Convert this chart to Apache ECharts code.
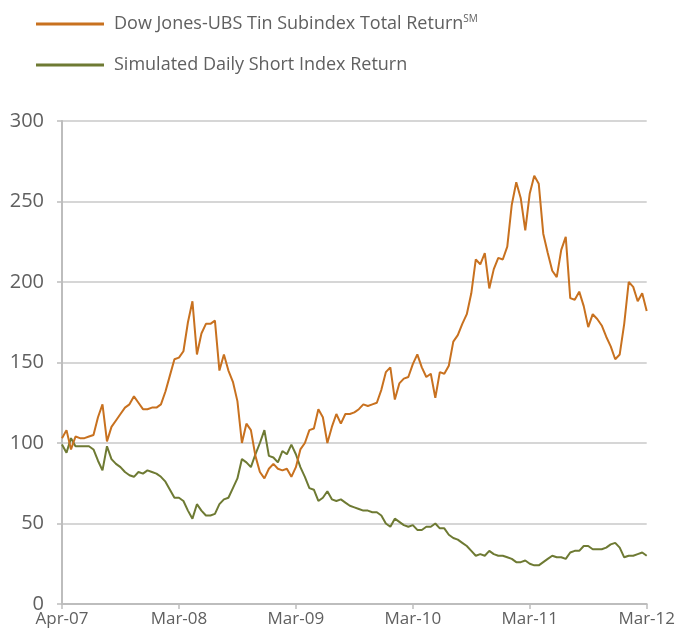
<!DOCTYPE html>
<html><head><meta charset="utf-8">
<script src="https://cdn.jsdelivr.net/npm/echarts@6/dist/echarts.min.js"></script>
<style>html,body{margin:0;padding:0;background:#fff}#c{width:678px;height:635px}</style>
</head><body><div id="c"></div>
<script>
const tickLabels = ['Apr-07','Mar-08','Mar-09','Mar-10','Mar-11','Mar-12'];
const stepsPerTick = 26;
const tinName = 'Dow Jones-UBS Tin Subindex Total Return';
const shortName = 'Simulated Daily Short Index Return';
const tin = [103,108,96,104,103,103,104,105,116,124,101,110,114,118,122,124,129,125,121,121,122,122,124,132,142,152,
153,157,175,188,155,168,174,174,176,145,155,145,138,126,100,112,108,92,82,78,84,87,84,83,84,79,
85,96,100,108,109,121,116,100,110,118,112,118,118,119,121,124,123,124,125,133,144,147,127,137,140,141,
149,155,147,141,143,128,144,143,148,163,167,174,180,193,214,211,218,196,208,215,214,222,248,262,252,232,
255,266,261,230,218,207,203,220,228,190,189,194,185,172,180,177,173,166,160,152,155,174,200,197,188,193,182];
const shortIdx = [99,94,103,98,98,98,98,96,89,83,98,90,87,85,82,80,79,82,81,83,82,81,79,76,71,66,
66,64,58,53,62,58,55,55,56,62,65,66,72,78,90,88,85,93,100,108,92,91,88,95,93,99,
93,85,79,72,71,64,66,70,65,64,65,63,61,60,59,58,58,57,57,55,50,48,53,51,49,48,
49,46,46,48,48,50,47,47,43,41,40,38,36,33,30,31,30,33,31,30,30,29,28,26,26,27,
25,24,24,26,28,30,29,29,28,32,33,33,36,36,34,34,34,35,37,38,35,29,30,30,31,32,30];

const categories = [];
for (let i = 0; i < tin.length; i++) {
  categories.push(i % stepsPerTick === 0 ? tickLabels[i / stepsPerTick] : '');
}

const font = 'Open Sans';
const txt = '#606060';
const chart = echarts.init(document.getElementById('c'));
chart.setOption({
  animation: false,
  grid: {left: 62, right: 31, top: 121, bottom: 31},
  legend: {
    left: 31, top: 9, orient: 'vertical', itemGap: 23,
    icon: 'rect', itemWidth: 68, itemHeight: 3,
    data: [tinName, shortName],
    textStyle: {
      fontFamily: font, fontSize: 18, color: txt, padding: [0,0,0,5],
      rich: {
        a: {fontFamily: font, fontSize: 18, color: txt},
        sup: {fontFamily: font, fontSize: 10, color: txt, verticalAlign: 'top', padding: [0,0,10,0]}
      }
    },
    formatter: function (n) { return n === tinName ? '{a|' + n + '}{sup|SM}' : '{a|' + n + '}'; }
  },
  xAxis: {
    type: 'category', data: categories, boundaryGap: false,
    axisLine: {lineStyle: {color: '#bdbdbd', width: 2}},
    axisTick: {show: true, interval: function (i) { return i % stepsPerTick === 0; }, length: 5, lineStyle: {color: '#bdbdbd', width: 1.5}},
    axisLabel: {interval: function (i) { return i % stepsPerTick === 0; }, fontFamily: font, fontSize: 17, color: txt, margin: 7},
    splitLine: {show: false}
  },
  yAxis: {
    type: 'value', min: 0, max: 300, interval: 50,
    axisLine: {show: true, lineStyle: {color: '#bdbdbd', width: 2}},
    axisTick: {show: true, length: 5, lineStyle: {color: '#bdbdbd', width: 1.5}},
    axisLabel: {fontFamily: font, fontSize: 20, color: txt, margin: 18},
    splitLine: {lineStyle: {color: '#c8c8c8', width: 1.5}}
  },
  series: [
    {name: tinName, type: 'line', data: tin, symbol: 'none', lineStyle: {color: '#C8711F', width: 2}, itemStyle: {color: '#C8711F'}, z: 3},
    {name: shortName, type: 'line', data: shortIdx, symbol: 'none', lineStyle: {color: '#6E7A33', width: 2}, itemStyle: {color: '#6E7A33'}, z: 2}
  ]
});
</script></body></html>
